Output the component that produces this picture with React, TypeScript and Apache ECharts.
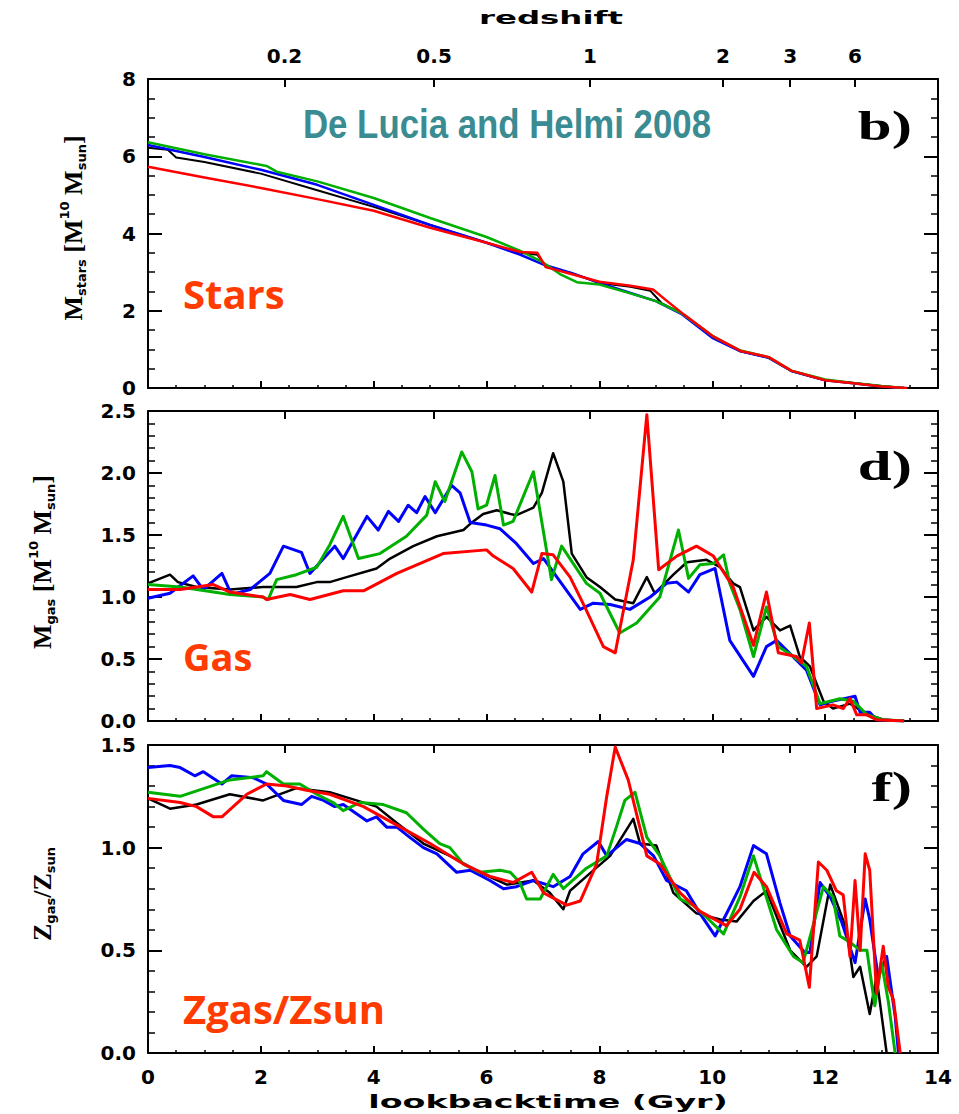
import React, { useEffect, useRef } from "react";
import * as echarts from "echarts";

// ---------- data ----------
const lookbackTicks = [0, 2, 4, 6, 8, 10, 12, 14];
const redshiftLabels = ["0.2", "0.5", "1", "2", "3", "6"];
const redshiftLookback = [2.42, 5.07, 7.83, 10.19, 11.38, 12.53];

const starsBlack = [[0,6.22],[0.35,6.17],[0.5,5.97],[1,5.85],[2,5.55],[3,5.12],[4,4.69],[5,4.22],[6,3.76],[6.6,3.5],[6.9,3.45],[7.05,3.13],[7.5,2.98],[8,2.72],[8.55,2.62],[8.9,2.52],[9.1,2.2],[9.45,1.94],[10,1.35],[10.5,0.95],[11,0.78],[11.4,0.44],[11.75,0.3],[12,0.2],[12.5,0.13],[13,0.05],[13.4,0]];
const starsGreen = [[0,6.36],[1,6.05],[2.1,5.75],[2.28,5.6],[3,5.35],[4,4.92],[5,4.4],[6,3.91],[6.6,3.55],[7,3.25],[7.3,2.95],[7.6,2.74],[8,2.68],[8.55,2.45],[9,2.25],[9.45,1.94],[10,1.35],[10.5,0.97],[11,0.8],[11.4,0.45],[12,0.22],[12.5,0.13],[13,0.05],[13.4,0]];
const starsBlue = [[0,6.29],[1,5.98],[2,5.65],[3,5.26],[4,4.74],[5,4.22],[6,3.76],[6.6,3.45],[7,3.2],[7.5,2.98],[8,2.72],[8.55,2.46],[9,2.25],[9.45,1.92],[10,1.3],[10.5,0.95],[11,0.78],[11.4,0.44],[12,0.2],[12.5,0.12],[13,0.04],[13.4,0]];
const starsRed = [[0,5.73],[1,5.45],[2,5.18],[3,4.89],[4,4.59],[5,4.15],[6,3.76],[6.6,3.52],[6.9,3.5],[7.05,3.13],[7.5,2.95],[8,2.75],[8.55,2.65],[8.95,2.55],[9.2,2.25],[9.5,1.9],[10,1.35],[10.5,0.96],[11,0.8],[11.4,0.45],[12,0.2],[12.5,0.12],[13,0.04],[13.45,0]];

const gasBlack = [[0,1.11],[0.39,1.18],[0.53,1.12],[0.86,1.08],[1.45,1.06],[2.04,1.08],[2.63,1.08],[2.99,1.12],[3.22,1.12],[3.52,1.16],[4.05,1.23],[4.29,1.31],[4.7,1.41],[5.12,1.49],[5.59,1.54],[5.71,1.59],[5.94,1.67],[6.18,1.7],[6.42,1.67],[6.53,1.66],[6.83,1.72],[6.98,1.84],[7.18,2.16],[7.36,1.93],[7.51,1.35],[7.77,1.16],[8.01,1.08],[8.28,0.98],[8.6,0.95],[8.84,1.16],[8.98,1.03],[9.31,1.18],[9.55,1.28],[9.9,1.3],[10.14,1.24],[10.37,1.11],[10.49,1.08],[10.73,0.73],[10.96,0.84],[11.2,0.73],[11.38,0.77],[11.55,0.52],[11.73,0.44],[11.97,0.16],[12.14,0.1],[12.44,0.14],[12.62,0.09],[12.79,0.05],[13.03,0.01],[13.4,0]];
const gasGreen = [[0,1.1],[0.57,1.08],[1.16,1.04],[1.45,1.02],[2.04,1.0],[2.13,0.98],[2.28,1.14],[2.63,1.18],[2.99,1.24],[3.22,1.42],[3.46,1.65],[3.73,1.31],[4.11,1.35],[4.58,1.49],[4.94,1.66],[5.09,1.93],[5.26,1.77],[5.56,2.17],[5.74,2.01],[5.85,1.71],[6.0,1.74],[6.15,1.98],[6.3,1.58],[6.47,1.61],[6.83,2.01],[7.15,1.14],[7.33,1.41],[7.77,1.11],[8.01,1.03],[8.36,0.71],[8.66,0.79],[9.07,1.0],[9.4,1.54],[9.58,1.15],[9.78,1.26],[10.02,1.27],[10.2,1.34],[10.31,1.11],[10.49,0.9],[10.73,0.52],[10.96,0.92],[11.17,0.6],[11.44,0.52],[11.67,0.44],[11.91,0.14],[12.26,0.18],[12.5,0.16],[12.74,0.05],[13.03,0.01],[13.4,0]];
const gasBlue = [[0,0.99],[0.39,1.03],[0.8,1.17],[0.98,1.06],[1.31,1.19],[1.48,1.02],[1.81,1.06],[2.16,1.19],[2.4,1.41],[2.72,1.36],[2.87,1.19],[3.31,1.41],[3.46,1.31],[3.88,1.65],[4.08,1.54],[4.26,1.69],[4.44,1.61],[4.61,1.74],[4.76,1.68],[4.91,1.81],[5.09,1.68],[5.38,1.9],[5.53,1.84],[5.71,1.6],[6.0,1.58],[6.24,1.55],[6.53,1.43],[6.83,1.27],[7.01,1.31],[7.66,0.9],[7.89,0.95],[8.19,0.94],[8.54,0.9],[8.9,1.0],[9.19,1.11],[9.37,1.12],[9.58,1.04],[9.78,1.18],[10.05,1.23],[10.31,0.65],[10.73,0.36],[10.96,0.6],[11.14,0.65],[11.67,0.41],[11.91,0.13],[12.14,0.16],[12.53,0.2],[12.62,0.07],[12.79,0.07],[12.91,0.01],[13.4,0]];
const gasRed = [[0,1.06],[0.57,1.06],[1.16,1.1],[1.45,1.04],[2.04,1.0],[2.1,0.98],[2.52,1.02],[2.87,0.98],[3.46,1.05],[3.82,1.05],[4.41,1.19],[5.23,1.35],[6.0,1.38],[6.12,1.33],[6.47,1.23],[6.8,1.04],[6.98,1.35],[7.18,1.34],[7.48,1.16],[7.74,0.92],[8.07,0.6],[8.28,0.55],[8.6,1.3],[8.84,2.47],[9.05,1.22],[9.37,1.33],[9.72,1.41],[10.02,1.33],[10.37,1.08],[10.73,0.61],[10.96,1.04],[11.17,0.55],[11.49,0.52],[11.58,0.47],[11.72,0.79],[11.85,0.1],[12.14,0.13],[12.32,0.1],[12.44,0.18],[12.56,0.05],[12.74,0.05],[12.91,0.01],[13.4,0]];

const zBlack = [[0,1.24],[0.39,1.19],[0.86,1.21],[1.45,1.26],[2.04,1.23],[2.63,1.29],[3.22,1.27],[3.58,1.24],[4.05,1.2],[4.41,1.12],[4.88,1.02],[5.35,0.96],[5.88,0.88],[6.36,0.82],[6.83,0.84],[7.12,0.78],[7.36,0.7],[7.48,0.79],[7.77,0.86],[8.19,0.96],[8.6,1.14],[8.72,1.02],[9.01,1.01],[9.31,0.78],[9.72,0.68],[10.14,0.65],[10.43,0.64],[10.73,0.74],[10.96,0.79],[11.38,0.5],[11.67,0.42],[11.85,0.47],[12.09,0.82],[12.38,0.6],[12.5,0.37],[12.62,0.42],[12.79,0.19],[12.91,0.37],[13.09,0]];
const zGreen = [[0,1.27],[0.57,1.25],[1.45,1.33],[2.04,1.35],[2.1,1.37],[2.4,1.31],[2.69,1.31],[2.99,1.26],[3.28,1.22],[3.46,1.18],[3.76,1.22],[4.17,1.21],[4.58,1.17],[4.88,1.09],[5.17,1.02],[5.35,1.0],[5.59,0.92],[5.88,0.88],[6.24,0.89],[6.42,0.88],[6.59,0.83],[6.71,0.75],[6.95,0.75],[7.18,0.87],[7.36,0.8],[7.77,0.9],[8.13,0.96],[8.3,1.1],[8.45,1.23],[8.63,1.27],[8.84,1.05],[9.07,0.96],[9.43,0.75],[9.66,0.72],[9.9,0.66],[10.2,0.58],[10.49,0.76],[10.73,0.96],[11.14,0.6],[11.44,0.47],[11.61,0.44],[11.97,0.81],[12.14,0.76],[12.26,0.57],[12.44,0.54],[12.62,0.5],[12.74,0.5],[12.88,0.23],[13.0,0.44],[13.12,0.25],[13.24,0]];
const zBlue = [[0,1.39],[0.39,1.4],[0.57,1.39],[0.83,1.35],[0.98,1.37],[1.31,1.31],[1.48,1.35],[1.87,1.34],[2.1,1.31],[2.4,1.23],[2.72,1.21],[2.9,1.25],[3.11,1.23],[3.31,1.2],[3.46,1.21],[3.88,1.13],[4.05,1.15],[4.23,1.1],[4.41,1.1],[4.64,1.05],[4.88,1.0],[5.12,0.97],[5.47,0.88],[5.71,0.89],[6.06,0.84],[6.3,0.8],[6.53,0.81],[6.83,0.84],[7.18,0.81],[7.48,0.86],[7.71,0.97],[7.98,1.03],[8.13,0.96],[8.48,1.04],[8.72,1.02],[8.96,0.96],[9.19,0.84],[9.54,0.79],[9.78,0.68],[10.05,0.57],[10.31,0.71],[10.49,0.81],[10.73,1.01],[10.96,0.97],[11.2,0.73],[11.38,0.57],[11.64,0.49],[11.73,0.49],[11.91,0.83],[12.09,0.76],[12.29,0.64],[12.53,0.44],[12.71,0.75],[12.79,0.65],[12.94,0.37],[13.09,0.47],[13.24,0.18],[13.3,0]];
const zRed = [[0,1.24],[0.57,1.22],[0.86,1.2],[1.16,1.15],[1.31,1.15],[1.75,1.26],[2.1,1.31],[2.46,1.3],[2.81,1.28],[3.22,1.26],[3.82,1.2],[4.41,1.11],[5.0,1.02],[5.59,0.92],[6.06,0.86],[6.47,0.83],[6.8,0.88],[7.01,0.78],[7.42,0.72],[7.66,0.74],[7.95,0.92],[8.13,1.25],[8.28,1.49],[8.51,1.33],[8.84,0.96],[9.07,0.92],[9.43,0.78],[9.78,0.69],[10.25,0.62],[10.49,0.7],[10.74,0.88],[10.96,0.81],[11.32,0.58],[11.55,0.55],[11.72,0.32],[11.88,0.93],[12.03,0.89],[12.2,0.79],[12.32,0.77],[12.44,0.47],[12.53,0.84],[12.62,0.5],[12.71,0.97],[12.79,0.89],[12.91,0.29],[13.03,0.52],[13.12,0.32],[13.21,0.26],[13.33,0]];

const panelYRange = [
  { min: 0, max: 8, interval: 2, minor: 4, digits: 0 },
  { min: 0, max: 2.5, interval: 0.5, minor: 5, digits: 1 },
  { min: 0, max: 1.5, interval: 0.5, minor: 5, digits: 1 },
];

const lineColors = { black: "#000000", blue: "#0000ff", green: "#00b000", red: "#ff0000" };

const panelSeries = [
  { black: starsBlack, blue: starsBlue, green: starsGreen, red: starsRed, width: 2.5 },
  { black: gasBlack, blue: gasBlue, green: gasGreen, red: gasRed, width: 3 },
  { black: zBlack, blue: zBlue, green: zGreen, red: zRed, width: 3 },
];

// ---------- layout ----------
const grids = [
  { left: 148, top: 79, width: 790, height: 309 },
  { left: 148, top: 411, width: 790, height: 310 },
  { left: 148, top: 745, width: 790, height: 308 },
];

const tickFont = { fontFamily: "DejaVu Sans", fontWeight: "bold" as const, fontSize: 20, color: "#000" };
const axisLineStyle = { color: "#000", width: 2 };

function buildOption() {
  const xAxis: any[] = [];
  const yAxis: any[] = [];
  const series: any[] = [];

  grids.forEach((_, i) => {
    // bottom lookback axis
    xAxis.push({
      type: "value", gridIndex: i, position: "bottom", min: lookbackTicks[0], max: lookbackTicks[lookbackTicks.length - 1], interval: 2,
      axisLine: { show: true, onZero: false, lineStyle: axisLineStyle },
      axisTick: { show: true, inside: true, length: 7, lineStyle: { color: "#000", width: 2 } },
      minorTick: { show: true, splitNumber: 4, length: 3, lineStyle: { color: "#000", width: 1.5 } },
      axisLabel: { show: i === 2, margin: 14, ...tickFont, formatter: (v: number) => String(Math.round(v)) },
      splitLine: { show: false },
    });
    // top redshift axis
    xAxis.push({
      type: "value", gridIndex: i, position: "top", min: 0, max: 14,
      axisLine: { show: true, onZero: false, lineStyle: axisLineStyle },
      axisTick: { show: true, inside: true, length: 8, customValues: redshiftLookback, lineStyle: { color: "#000", width: 2 } },
      axisLabel: {
        show: i === 0, margin: 13, ...tickFont, customValues: redshiftLookback,
        formatter: (v: number) => {
          const k = redshiftLookback.findIndex((t) => Math.abs(t - v) < 1e-6);
          return k >= 0 ? redshiftLabels[k] : "";
        },
      },
      splitLine: { show: false },
    });
    const r = panelYRange[i];
    yAxis.push({
      type: "value", gridIndex: i, position: "left", min: r.min, max: r.max, interval: r.interval,
      axisLine: { show: true, onZero: false, lineStyle: axisLineStyle },
      axisTick: { show: true, inside: true, length: 14, lineStyle: { color: "#000", width: 2 } },
      minorTick: { show: true, splitNumber: r.minor, length: 7, lineStyle: { color: "#000", width: 1.5 } },
      axisLabel: { show: true, margin: 12, ...tickFont, formatter: (v: number) => v.toFixed(r.digits) },
      splitLine: { show: false },
    });
    yAxis.push({
      type: "value", gridIndex: i, position: "right", min: r.min, max: r.max, interval: r.interval,
      axisLine: { show: true, onZero: false, lineStyle: axisLineStyle },
      axisTick: { show: true, inside: true, length: 14, lineStyle: { color: "#000", width: 2 } },
      minorTick: { show: true, splitNumber: r.minor, length: 7, lineStyle: { color: "#000", width: 1.5 } },
      axisLabel: { show: false },
      splitLine: { show: false },
    });

    const ps = panelSeries[i];
    (["black", "blue", "green", "red"] as const).forEach((c) => {
      series.push({
        name: `${c}-${i}`,
        type: "line",
        xAxisIndex: 2 * i,
        yAxisIndex: 2 * i,
        data: ps[c],
        showSymbol: false,
        symbol: "none",
        lineStyle: { color: lineColors[c], width: c === "black" ? ps.width - 0.5 : ps.width, join: "round" },
        emphasis: { disabled: true },
      });
    });
  });

  const serif = "'Liberation Serif', 'DejaVu Serif', serif";
  const yNameRich = {
    m: { fontFamily: serif, fontSize: 26, fontWeight: "bold", color: "#000", lineHeight: 30, verticalAlign: "middle" },
    sb: { fontFamily: "'DejaVu Sans', sans-serif", fontSize: 13, fontWeight: "bold", color: "#000", lineHeight: 13, verticalAlign: "bottom" },
    sp: { fontFamily: "'DejaVu Sans', sans-serif", fontSize: 13, fontWeight: "bold", color: "#000", lineHeight: 13, verticalAlign: "top" },
  };
  const labelFont = "'Open Sans', 'Noto Sans', sans-serif";
  const tagColor = "#ff3b00";

  const graphic: any[] = [
    {
      type: "text", x: 551, y: 18, scaleX: 1.8,
      style: { text: "redshift", fontFamily: "DejaVu Sans", fontWeight: "bold", fontSize: 18, fill: "#000", align: "center", verticalAlign: "middle" },
    },
    {
      type: "text", x: 548, y: 1102, scaleX: 1.85,
      style: { text: "lookbacktime (Gyr)", fontFamily: "DejaVu Sans", fontWeight: "bold", fontSize: 18, fill: "#000", align: "center", verticalAlign: "middle" },
    },
    {
      type: "text", x: 507, y: 124, scaleX: 0.87,
      style: { text: "De Lucia and Helmi 2008", fontFamily: "'Liberation Sans', Arial, sans-serif", fontWeight: "bold", fontSize: 40, fill: "#3a8c92", align: "center", verticalAlign: "middle" },
    },
    { type: "text", x: 183, y: 293, style: { text: "Stars", fontFamily: labelFont, fontWeight: "bold", fontSize: 40, fill: tagColor, align: "left", verticalAlign: "middle" } },
    { type: "text", x: 183, y: 656, style: { text: "Gas", fontFamily: labelFont, fontWeight: "bold", fontSize: 38, fill: tagColor, align: "left", verticalAlign: "middle" } },
    { type: "text", x: 183, y: 1008, style: { text: "Zgas/Zsun", fontFamily: labelFont, fontWeight: "bold", fontSize: 40, fill: tagColor, align: "left", verticalAlign: "middle" } },
    { type: "text", x: 912, y: 126, scaleX: 1.45, style: { text: "b)", fontFamily: serif, fontWeight: "bold", fontSize: 42, fill: "#000", align: "right", verticalAlign: "middle" } },
    { type: "text", x: 912, y: 466, scaleX: 1.45, style: { text: "d)", fontFamily: serif, fontWeight: "bold", fontSize: 42, fill: "#000", align: "right", verticalAlign: "middle" } },
    { type: "text", x: 912, y: 787, scaleX: 1.45, style: { text: "f)", fontFamily: serif, fontWeight: "bold", fontSize: 42, fill: "#000", align: "right", verticalAlign: "middle" } },
    {
      type: "text", x: 73, y: 228, rotation: Math.PI / 2,
      style: { text: "{m|M}{sb|stars}{m| [M}{sp|10}{m| M}{sb|sun}{m|]}", rich: yNameRich, align: "center", verticalAlign: "middle" },
    },
    {
      type: "text", x: 42, y: 562, rotation: Math.PI / 2,
      style: { text: "{m|M}{sb|gas}{m| [M}{sp|10}{m| M}{sb|sun}{m|]}", rich: yNameRich, align: "center", verticalAlign: "middle" },
    },
    {
      type: "text", x: 42, y: 894, rotation: Math.PI / 2,
      style: { text: "{m|Z}{sb|gas}{m|/Z}{sb|sun}", rich: yNameRich, align: "center", verticalAlign: "middle" },
    },
  ];

  return {
    animation: false,
    backgroundColor: "#ffffff",
    grid: grids.map((g) => ({ ...g, containLabel: false })),
    xAxis,
    yAxis,
    series,
    graphic,
  };
}

export default function App() {
  const ref = useRef<HTMLDivElement>(null);
  useEffect(() => {
    if (!ref.current) return;
    const chart = echarts.init(ref.current, undefined, { renderer: "svg" });
    chart.setOption(buildOption() as any);
    return () => chart.dispose();
  }, []);
  return (
    <div
      ref={ref}
      style={{ position: "absolute", left: 0, top: 0, width: 959, height: 1114, background: "#fff" }}
    />
  );
}
